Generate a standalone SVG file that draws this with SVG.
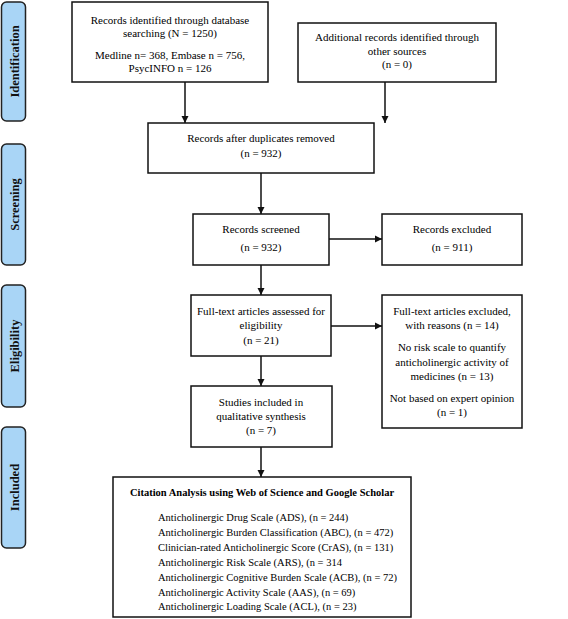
<svg xmlns="http://www.w3.org/2000/svg" width="568" height="619" viewBox="0 0 568 619">
<style>
.box{fill:#fff;stroke:#111;stroke-width:1.5}
.side{fill:#a9d5f6;stroke:#222;stroke-width:1.5}
.t{font-family:"Liberation Serif","Times New Roman",serif;font-size:11px;fill:#000;text-anchor:middle}
.l{font-family:"Liberation Serif","Times New Roman",serif;font-size:10.5px;fill:#000}
.b{font-weight:bold;font-size:10.5px}
.st{font-family:"Liberation Serif","Times New Roman",serif;font-size:12.5px;font-weight:bold;fill:#111;text-anchor:middle}
.c{stroke:#111;stroke-width:1.5;fill:none;marker-end:url(#ah)}
</style>
<defs>
<marker id="ah" viewBox="0 0 10 10" refX="10" refY="5" markerWidth="5" markerHeight="5" orient="auto" markerUnits="strokeWidth">
<path d="M0,0 L10,5 L0,10 z" fill="#111"/>
</marker>
</defs>
<rect width="568" height="619" fill="#fff"/>
<g id="stage-identification"><rect class="side" x="1.5" y="2" width="24" height="119" rx="5"/><text class="st" transform="translate(18.5,61.5) rotate(-90)">Identification</text></g>
<g id="stage-screening"><rect class="side" x="1.5" y="144" width="24" height="121" rx="5"/><text class="st" transform="translate(18.5,204.5) rotate(-90)">Screening</text></g>
<g id="stage-eligibility"><rect class="side" x="1.5" y="285" width="24" height="122" rx="5"/><text class="st" transform="translate(18.5,346) rotate(-90)">Eligibility</text></g>
<g id="stage-included"><rect class="side" x="1.5" y="427" width="24" height="121" rx="5"/><text class="st" transform="translate(18.5,487.5) rotate(-90)">Included</text></g>

<g id="records-db"><rect class="box" x="72" y="2" width="196" height="80"/>
<text class="t" x="170" y="24">Records identified through database</text>
<text class="t" x="170" y="37">searching (N = 1250)</text>
<text class="t" x="170" y="59">Medline n= 368, Embase n = 756,</text>
<text class="t" x="170" y="72">PsycINFO n = 126</text></g>

<g id="records-other"><rect class="box" x="298" y="23" width="198" height="59"/>
<text class="t" x="397" y="41">Additional records identified through</text>
<text class="t" x="397" y="55">other sources</text>
<text class="t" x="397" y="68">(n = 0)</text></g>

<g id="dup-removed"><rect class="box" x="148" y="123" width="226" height="50"/>
<text class="t" x="261" y="142">Records after duplicates removed</text>
<text class="t" x="261" y="157">(n = 932)</text></g>

<g id="screened"><rect class="box" x="193" y="214" width="136" height="51"/>
<text class="t" x="261" y="233">Records screened</text>
<text class="t" x="261" y="251">(n = 932)</text></g>

<g id="excluded"><rect class="box" x="382" y="214" width="140" height="51"/>
<text class="t" x="452" y="233">Records excluded</text>
<text class="t" x="452" y="251">(n = 911)</text></g>

<g id="fulltext"><rect class="box" x="191" y="295" width="140" height="61"/>
<text class="t" x="261" y="315">Full-text articles assessed for</text>
<text class="t" x="261" y="329">eligibility</text>
<text class="t" x="261" y="344">(n = 21)</text></g>

<g id="fulltext-excluded"><rect class="box" x="382" y="295" width="140" height="133"/>
<text class="t" x="452" y="315">Full-text articles excluded,</text>
<text class="t" x="452" y="329">with reasons (n = 14)</text>
<text class="t" x="452" y="351">No risk scale to quantify</text>
<text class="t" x="452" y="366">anticholinergic activity of</text>
<text class="t" x="452" y="380">medicines (n = 13)</text>
<text class="t" x="452" y="402">Not based on expert opinion</text>
<text class="t" x="452" y="416">(n = 1)</text></g>

<g id="studies"><rect class="box" x="191" y="386" width="141" height="61"/>
<text class="t" x="261" y="406">Studies included in</text>
<text class="t" x="261" y="420">qualitative synthesis</text>
<text class="t" x="261" y="434">(n = 7)</text></g>

<g id="citation"><rect class="box" x="113" y="477" width="298" height="140"/>
<text class="t b" x="262" y="496">Citation Analysis using Web of Science and Google Scholar</text>
<text class="l" x="158" y="521">Anticholinergic Drug Scale (ADS), (n = 244)</text>
<text class="l" x="158" y="536">Anticholinergic Burden Classification (ABC), (n = 472)</text>
<text class="l" x="158" y="551">Clinician-rated Anticholinergic Score (CrAS), (n = 131)</text>
<text class="l" x="158" y="566">Anticholinergic Risk Scale (ARS), (n = 314</text>
<text class="l" x="158" y="581">Anticholinergic Cognitive Burden Scale (ACB), (n = 72)</text>
<text class="l" x="158" y="596">Anticholinergic Activity Scale (AAS), (n = 69)</text>
<text class="l" x="158" y="610">Anticholinergic Loading Scale (ACL), (n = 23)</text></g>

<g id="connectors">
<path class="c" d="M185,82 V123"/>
<path class="c" d="M385,82 V123"/>
<path class="c" d="M261,173 V214"/>
<path class="c" d="M329,239 H382"/>
<path class="c" d="M261,265 V295"/>
<path class="c" d="M331,326 H382"/>
<path class="c" d="M261,356 V386"/>
<path class="c" d="M261,447 V477"/>
</g>
</svg>
